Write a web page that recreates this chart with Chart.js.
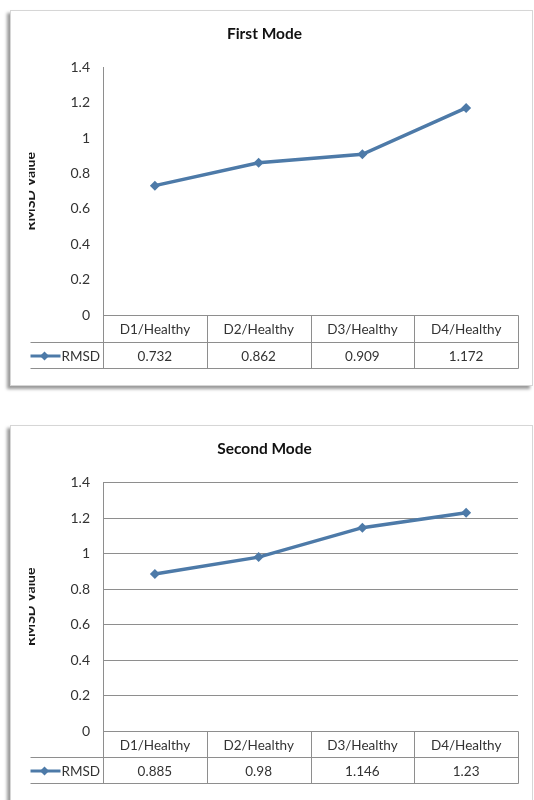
<!DOCTYPE html>
<html>
<head>
<meta charset="utf-8">
<script src="https://cdn.jsdelivr.net/npm/chart.js@4/dist/chart.umd.min.js"></script>
<style>
  html, body { margin: 0; padding: 0; background: #fff; width: 534px; height: 800px; overflow: hidden; }
  .frame {
    position: absolute; left: 10px; width: 521px; background: #fff;
    border: 1px solid #d6d6d6; box-shadow: -3px 3px 3px rgba(0, 0, 0, 0.4);
  }
  #f1 { top: 10px; height: 374px; }
  #f2 { top: 425px; height: 400px; }
  canvas { display: block; }
</style>
</head>
<body>
<div class="frame" id="f1"><canvas id="c1" width="521" height="374"></canvas></div>
<div class="frame" id="f2"><canvas id="c2" width="521" height="374"></canvas></div>
<script>
// RMSD of each damage case against the healthy state, for two vibration modes
const categories = ['D1/Healthy', 'D2/Healthy', 'D3/Healthy', 'D4/Healthy'];
const firstModeRmsd = [0.732, 0.862, 0.909, 1.172];
const secondModeRmsd = [0.885, 0.98, 1.146, 1.23];
const seriesName = 'RMSD';
const yAxisTitle = 'RMSD Value';
const chartTitles = ['First Mode', 'Second Mode'];
const yTickLabels = ['0', '0.2', '0.4', '0.6', '0.8', '1', '1.2', '1.4'];
const yMin = 0;
const yMax = 1.4;
const yStep = 0.2;

const FONT = 'Lato, "Liberation Sans", sans-serif';
const SERIES_COLOR = '#4d7aa8';
const RULE_COLOR = '#8e8e8e';
const TEXT_COLOR = '#333333';

// Data table under the plot: category row, then legend key + values row
const dataTablePlugin = {
  id: 'dataTable',
  afterDraw(chart, args, opts) {
    const { ctx, chartArea: a, scales: { x } } = chart;
    const ds = chart.data.datasets[0];
    const n = chart.data.labels.length;
    const w = a.width / n;
    const top = Math.round(a.bottom) + 0.5;
    const mid = top + opts.row1;
    const bot = mid + opts.row2;
    const left = Math.round(a.left) + 0.5;
    const right = Math.round(a.right) + 0.5;
    const keyLeft = opts.keyLeft;

    const seg = (x1, y1, x2, y2) => { ctx.beginPath(); ctx.moveTo(x1, y1); ctx.lineTo(x2, y2); ctx.stroke(); };

    ctx.save();
    ctx.strokeStyle = RULE_COLOR;
    ctx.lineWidth = 1;
    seg(left, top, right, top);
    seg(keyLeft, mid, right, mid);
    seg(keyLeft, bot, right, bot);
    for (let i = 0; i <= n; i++) {
      const xx = Math.round(a.left + i * w) + 0.5;
      seg(xx, top, xx, bot);
    }

    ctx.fillStyle = TEXT_COLOR;
    ctx.font = '13.5px ' + FONT;
    ctx.textAlign = 'center';
    ctx.textBaseline = 'middle';
    chart.data.labels.forEach((c, i) => ctx.fillText(c, x.getPixelForValue(i), (top + mid) / 2 + 1));
    ds.data.forEach((v, i) => ctx.fillText(String(v), x.getPixelForValue(i), (mid + bot) / 2 + 1));

    // legend key
    const ky = Math.round((mid + bot) / 2);
    ctx.strokeStyle = ds.borderColor;
    ctx.lineWidth = 3;
    seg(keyLeft, ky, keyLeft + 30, ky);
    ctx.fillStyle = ds.borderColor;
    const cx = keyLeft + 14, r = 4.5;
    ctx.beginPath();
    ctx.moveTo(cx, ky - r); ctx.lineTo(cx + r, ky); ctx.lineTo(cx, ky + r); ctx.lineTo(cx - r, ky);
    ctx.closePath(); ctx.fill();
    ctx.fillStyle = TEXT_COLOR;
    ctx.textAlign = 'left';
    ctx.fillText(ds.label, keyLeft + 31, ky + 1);
    ctx.restore();
  }
};

// Vertical axis title, partly hidden by the left edge of the chart box
const clippedAxisTitlePlugin = {
  id: 'clippedAxisTitle',
  afterDraw(chart, args, opts) {
    const { ctx, chartArea: a } = chart;
    ctx.save();
    ctx.beginPath();
    ctx.rect(opts.clipLeft, 0, chart.width, chart.height);
    ctx.clip();
    ctx.translate(opts.baseline, (a.top + a.bottom) / 2);
    ctx.rotate(-Math.PI / 2);
    ctx.fillStyle = '#1a1a1a';
    ctx.font = 'bold 14px ' + FONT;
    ctx.textAlign = 'center';
    ctx.textBaseline = 'alphabetic';
    ctx.fillText(opts.text, 0, 0);
    ctx.restore();
  }
};

function makeChart(canvasId, title, values, showGrid, row1, row2) {
  return new Chart(document.getElementById(canvasId), {
    type: 'line',
    data: {
      labels: categories,
      datasets: [{
        label: seriesName,
        data: values,
        borderColor: SERIES_COLOR,
        backgroundColor: SERIES_COLOR,
        borderWidth: 3.5,
        pointStyle: 'rectRot',
        pointRadius: 5,
        pointBackgroundColor: SERIES_COLOR,
        pointBorderColor: SERIES_COLOR,
        pointBorderWidth: 0,
        tension: 0,
        fill: false
      }]
    },
    options: {
      responsive: false,
      animation: false,
      events: [],
      layout: { padding: { left: 0, right: 14, top: 0, bottom: 17 } },
      plugins: {
        legend: { display: false },
        tooltip: { enabled: false },
        title: {
          display: true,
          text: title,
          color: '#111',
          font: { family: FONT, size: 15.5, weight: 'bold' },
          padding: { top: 14, bottom: 24 }
        },
        dataTable: { row1, row2, keyLeft: 19.5 },
        clippedAxisTitle: { text: yAxisTitle, baseline: 24, clipLeft: 18 }
      },
      scales: {
        x: {
          type: 'category',
          offset: true,
          grid: { display: false },
          border: { display: false },
          ticks: { display: false },
          afterFit(scale) { scale.height = row1 + row2; }
        },
        y: {
          min: yMin,
          max: yMax,
          ticks: {
            stepSize: yStep,
            color: TEXT_COLOR,
            padding: 13,
            font: { family: FONT, size: 14 },
            callback: (v, i) => yTickLabels[i]
          },
          grid: { display: showGrid, color: RULE_COLOR, drawTicks: false },
          border: { display: true, color: RULE_COLOR },
          afterFit(scale) { scale.width = 92; }
        }
      }
    },
    plugins: [dataTablePlugin, clippedAxisTitlePlugin]
  });
}

makeChart('c1', chartTitles[0], firstModeRmsd, false, 27, 26);
makeChart('c2', chartTitles[1], secondModeRmsd, true, 26, 26);
</script>
</body>
</html>
